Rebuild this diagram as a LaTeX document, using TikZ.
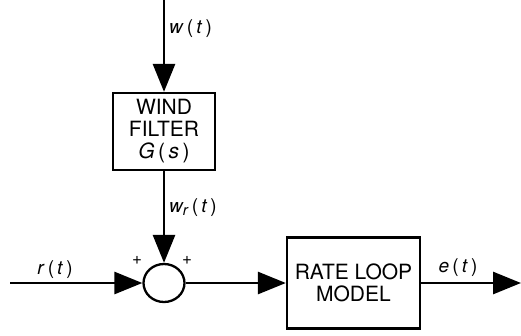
\documentclass[tikz,border=0pt]{standalone}
\usepackage{fontspec}
\setmainfont{TeX Gyre Heros}
\usetikzlibrary{arrows.meta,shapes.geometric}
\begin{document}
\begin{tikzpicture}[x=1pt,y=-1pt,
  blk/.style={draw,line width=2.3pt,rectangle,inner sep=0pt,align=center,font=\fontsize{21}{22}\selectfont},
  arr/.style={line width=2.8pt,-{Triangle[length=28pt,width=22pt]}},
  lbl/.style={inner sep=0pt,font=\fontsize{19}{20}\selectfont},
  sgn/.style={inner sep=0pt,font=\fontsize{17}{18}\selectfont}]
\useasboundingbox (0,0) rectangle (521,335);
\node[blk,minimum width=102pt,minimum height=77pt] (wf) at (164,131.5) {WIND\\FILTER\\\textit{G}\,(\,\textit{s}\,)};
\node[draw,line width=2.3pt,ellipse,minimum width=41pt,minimum height=38pt,inner sep=0pt] (sum) at (164,283) {};
\node[blk,minimum width=133pt,minimum height=91pt] (rl) at (353.5,283) {RATE LOOP\\MODEL};
\coordinate (wtop) at (164,0);
\coordinate (rin) at (10,283);
\coordinate (eout) at (521,283);
\draw[arr] (wtop) -- (wf.north);
\draw[arr] (wf.south) -- (sum.north);
\draw[arr] (rin) -- (sum.west);
\draw[arr] (sum.east) -- (rl.west);
\draw[arr] (rl.east) -- (eout);
\node[lbl,anchor=west] (lw) at (169,29) {\textit{w}\,(\,\textit{t}\,)};
\node[lbl,anchor=west] (lwr) at (169,208) {\textit{w}\kern-1pt\raisebox{-3pt}{\fontsize{15}{15}\selectfont\textit{r}}\,(\,\textit{t}\,)};
\node[lbl] (lr) at (55,270) {\textit{r}\,(\,\textit{t}\,)};
\node[lbl] (le) at (458,268) {\textit{e}\,(\,\textit{t}\,)};
\node[sgn] (p1) at (137,260) {+};
\node[sgn] (p2) at (187,260) {+};
\end{tikzpicture}
\end{document}
